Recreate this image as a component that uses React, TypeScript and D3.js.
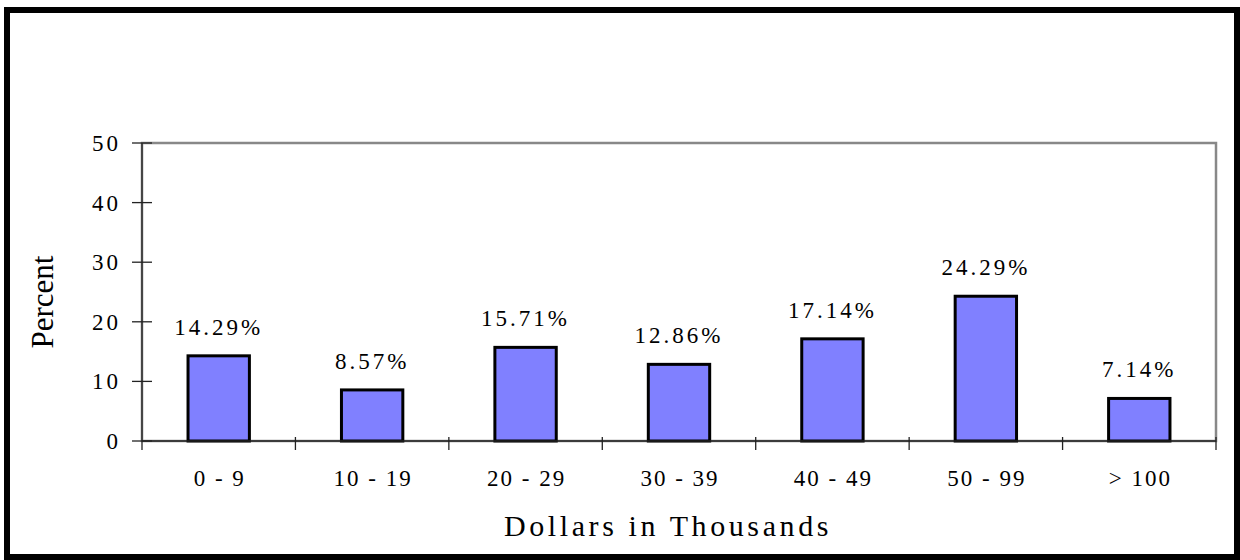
import React from "react";
import * as d3 from "d3";

const categories = ["0 - 9", "10 - 19", "20 - 29", "30 - 39", "40 - 49", "50 - 99", "> 100"];
const values = [14.29, 8.57, 15.71, 12.86, 17.14, 24.29, 7.14];
const valueLabels = ["14.29%", "8.57%", "15.71%", "12.86%", "17.14%", "24.29%", "7.14%"];
const yTicks = [0, 10, 20, 30, 40, 50];

const W = 1240;
const H = 560;
const left = 142;
const right = 1216;
const top = 143;
const bottom = 441;
const font = "'Liberation Serif', 'Times New Roman', serif";

export default function App() {
  const x = d3.scaleBand<string>().domain(categories).range([left, right]).paddingInner(0.6).paddingOuter(0.3);
  const xb = d3.scaleBand<string>().domain(categories).range([left, right]);
  const y = d3.scaleLinear().domain([0, 50]).range([bottom, top]);
  return (
    <svg width={W} height={H} style={{ position: "absolute", left: 0, top: 0 }}>
      <rect x={0} y={0} width={W} height={H} fill="#fff" />
      <rect x={7} y={10} width={1230} height={547} fill="none" stroke="#000" strokeWidth={6} />
      <rect x={left} y={top} width={right - left} height={bottom - top} fill="none" stroke="#888" strokeWidth={2.5} />
      {categories.map((c, i) => (
        <rect key={c} x={x(c)} y={y(values[i])} width={x.bandwidth()} height={bottom - y(values[i])}
          fill="#8080FF" stroke="#000" strokeWidth={3} />
      ))}
      <line x1={left} x2={left} y1={top} y2={bottom + 9} stroke="#222" strokeWidth={1.3} />
      <line x1={left} x2={right} y1={bottom} y2={bottom} stroke="#222" strokeWidth={1.5} />
      {yTicks.map((t) => (
        <g key={t}>
          <line x1={left - 10} x2={left + 10} y1={y(t)} y2={y(t)} stroke="#222" strokeWidth={1.3} />
          <text x={121} y={y(t)} dy="0.35em" textAnchor="end" fontFamily={font} fontSize={23} letterSpacing={3}>{t}</text>
        </g>
      ))}
      {categories.map((c) => (
        <line key={"t" + c} x1={(xb(c) as number) + xb.bandwidth()} x2={(xb(c) as number) + xb.bandwidth()}
          y1={bottom - 4} y2={bottom + 9} stroke="#222" strokeWidth={1.3} />
      ))}
      {categories.map((c) => (
        <text key={"l" + c} x={(xb(c) as number) + xb.bandwidth() / 2 + 1} y={486} textAnchor="middle"
          fontFamily={font} fontSize={23} letterSpacing={2}>{c}</text>
      ))}
      {categories.map((c, i) => (
        <text key={"v" + c} x={(x(c) as number) + x.bandwidth() / 2} y={y(values[i]) - 21} textAnchor="middle"
          fontFamily={font} fontSize={23} letterSpacing={3}>{valueLabels[i]}</text>
      ))}
      <text x={668} y={536} textAnchor="middle" fontFamily={font} fontSize={30} letterSpacing={3.6}>Dollars in Thousands</text>
      <text transform="translate(53,302) rotate(-90)" textAnchor="middle" fontFamily={font} fontSize={31}>Percent</text>
    </svg>
  );
}
